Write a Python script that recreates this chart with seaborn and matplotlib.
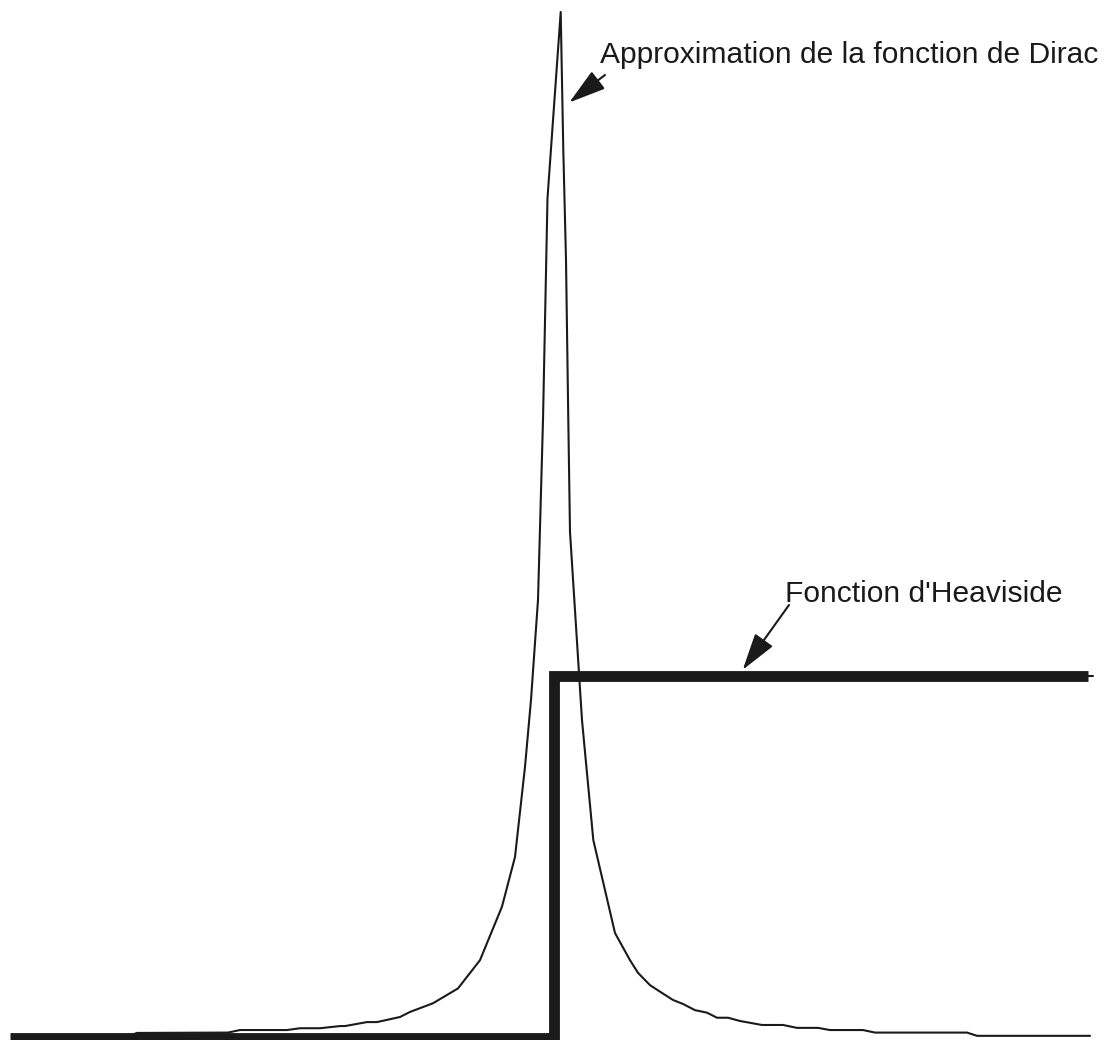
import pandas as pd
import matplotlib
matplotlib.use('Agg')
import matplotlib.pyplot as plt
import seaborn as sns

sns.set_style('white')
plt.rcParams['font.family'] = ['Liberation Sans', 'DejaVu Sans']

INK = '#1a1a1a'

# Dirac approximation (peak near x = 0)
dirac_x = [-5.38, -4.26, -4.17, -3.26, -3.14, -2.67, -2.54, -2.34, -2.14, -2.09,
           -1.87, -1.77, -1.54, -1.44, -1.21, -0.96, -0.74, -0.52, -0.39, -0.29,
           -0.23, -0.16, -0.11, -0.065, 0.067,
           0.093, 0.12, 0.143, 0.16, 0.267, 0.28, 0.393, 0.61, 0.76, 0.84,
           0.96, 1.06, 1.19, 1.29, 1.41, 1.53, 1.63, 1.74, 1.86, 1.96,
           2.08, 2.29, 2.43, 2.64, 2.76, 3.09, 3.21, 4.13, 4.23, 5.36]
dirac_y = [0.005, 0.005, 0.014, 0.015, 0.022, 0.022, 0.027, 0.027, 0.033, 0.033,
           0.044, 0.044, 0.058, 0.072, 0.096, 0.137, 0.215, 0.363, 0.50, 0.749,
           0.934, 1.21, 1.707, 2.32, 2.834,
           2.453, 2.149, 1.707, 1.398, 0.934, 0.878, 0.547, 0.29, 0.215, 0.18,
           0.146, 0.128, 0.105, 0.094, 0.077, 0.07, 0.056, 0.056, 0.047, 0.042,
           0.036, 0.036, 0.028, 0.028, 0.022, 0.022, 0.015, 0.015, 0.006, 0.006]

# Heaviside step
heav_x = [-5.44, 0.0, 0.0, 5.34]
heav_y = [0.0, 0.0, 1.0, 1.0]
heav_tail_x = [5.30, 5.39]
heav_tail_y = [1.0, 1.0]

df_dirac = pd.DataFrame({'x': dirac_x, 'y': dirac_y})
df_heav = pd.DataFrame({'x': heav_x, 'y': heav_y})
df_tail = pd.DataFrame({'x': heav_tail_x, 'y': heav_tail_y})

fig = plt.figure(figsize=(11.1, 10.4), dpi=100)
ax = fig.add_axes([0, 0, 1, 1])

sns.lineplot(data=df_dirac, x='x', y='y', sort=False, estimator=None,
             color=INK, linewidth=1.5, ax=ax)
sns.lineplot(data=df_tail, x='x', y='y', sort=False, estimator=None,
             color=INK, linewidth=1.5, ax=ax)
sns.lineplot(data=df_heav, x='x', y='y', sort=False, estimator=None,
             color=INK, linewidth=7.8, ax=ax)
for ln in ax.lines[-1:]:
    ln.set_solid_joinstyle('miter')
    ln.set_solid_capstyle('butt')

arrow = dict(arrowstyle='-|>,head_length=1.15,head_width=0.34', mutation_scale=20,
             color=INK, lw=1.5, shrinkA=0, shrinkB=0)

ax.annotate('', xy=(0.153, 2.584), xytext=(0.51, 2.66), arrowprops=arrow)
ax.text(0.46, 2.693, 'Approximation de la fonction de Dirac', fontsize=21.6,
        color=INK, ha='left', va='baseline')

ax.annotate('', xy=(1.887, 1.017), xytext=(2.35, 1.196), arrowprops=arrow)
ax.text(2.31, 1.205, "Fonction d'Heaviside", fontsize=21.6,
        color=INK, ha='left', va='baseline')

ax.set_xlim(-5.54, 5.56)
ax.set_ylim(-0.0055, 2.867)
ax.set_axis_off()

fig.savefig('out.png', dpi=100, facecolor='white')
